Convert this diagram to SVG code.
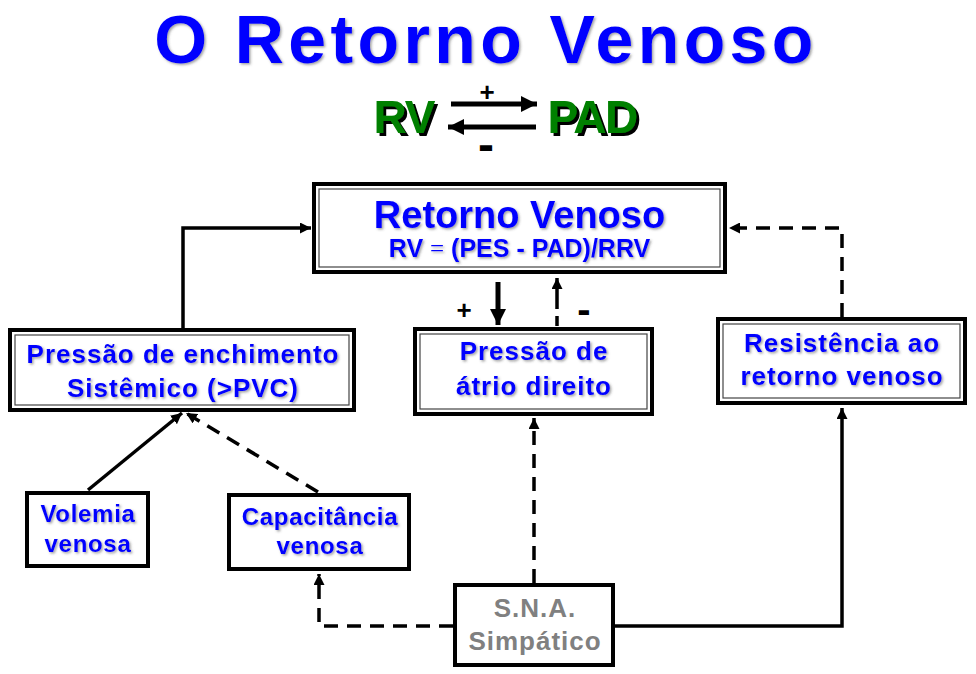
<svg xmlns="http://www.w3.org/2000/svg" width="976" height="674" viewBox="0 0 976 674">
<defs>
<filter id="sh" x="-5%" y="-5%" width="110%" height="120%"><feDropShadow dx="1.5" dy="1.5" stdDeviation="0.8" flood-color="#444" flood-opacity="0.5"/></filter>
<filter id="hard" x="-5%" y="-5%" width="115%" height="120%"><feDropShadow dx="3" dy="3" stdDeviation="0" flood-color="#000" flood-opacity="1"/></filter>
<marker id="ah" viewBox="0 0 10 10" refX="10" refY="5" markerWidth="11" markerHeight="11" markerUnits="userSpaceOnUse" orient="auto"><path d="M0,0 L10,5 L0,10 z" fill="#000"/></marker>
<marker id="ahb" viewBox="0 0 10 10" refX="10" refY="5" markerWidth="16" markerHeight="16" markerUnits="userSpaceOnUse" orient="auto"><path d="M0,0 L10,5 L0,10 z" fill="#000"/></marker>
<style>
.t{font-family:"Liberation Sans",Arial,sans-serif;font-weight:bold;text-anchor:middle}
.blue{fill:#0000ff}
.ob{fill:#fff;stroke:#000;stroke-width:4}
.ib{fill:none;stroke:#444;stroke-width:1.2}
.sb{fill:#fff;stroke:#000;stroke-width:4}
.c{fill:none;stroke:#000;stroke-width:3.5}
.d{stroke-dasharray:14 9}
.lab{font-size:26px;letter-spacing:1px}
.sm{font-size:24px;letter-spacing:0.7px}
</style>
</defs>
<rect width="976" height="674" fill="#fff"/>
<text class="t blue" x="486" y="63" font-size="68" letter-spacing="4.4" filter="url(#sh)">O Retorno Venoso</text>
<g id="eq">
<text class="t" x="404" y="133" font-size="46" fill="#008000" letter-spacing="-1" filter="url(#hard)">RV</text>
<text class="t" x="592" y="133" font-size="46" fill="#008000" letter-spacing="-1.5" filter="url(#hard)">PAD</text>
<line x1="451" y1="104" x2="537" y2="104" stroke="#000" stroke-width="5" marker-end="url(#ahb)"/>
<line x1="536" y1="127" x2="448" y2="127" stroke="#000" stroke-width="5" marker-end="url(#ahb)"/>
<text class="t" x="487" y="101" font-size="26">+</text>
<text class="t" x="486" y="161" font-size="48">-</text>
</g>
<g id="connectors">
<path class="c" d="M183,328 V228 H311" marker-end="url(#ah)"/>
<path class="c d" d="M842,317 V228 H729" marker-end="url(#ah)"/>
<path d="M498,282 V325" stroke="#000" stroke-width="5" fill="none" marker-end="url(#ahb)"/>
<path class="c" d="M557,326 V278" stroke-dasharray="10 7 40" marker-end="url(#ah)"/>
<path class="c" d="M88,490 L182,413" marker-end="url(#ah)"/>
<path class="c d" d="M318,492 L186,413" marker-end="url(#ah)"/>
<path class="c d" d="M453,626 H319 V574" marker-end="url(#ah)"/>
<path class="c d" d="M534,583 V418" marker-end="url(#ah)"/>
<path class="c" d="M615,626 H842 V408" marker-end="url(#ah)"/>
<text class="t" x="464" y="319" font-size="26">+</text>
<text class="t" x="584" y="323" font-size="40">-</text>
</g>
<g id="retorno">
<rect class="ob" x="314" y="184" width="411" height="88"/>
<rect class="ib" x="319" y="189" width="401" height="78"/>
<text class="t blue" x="519.5" y="228" font-size="38" filter="url(#sh)">Retorno Venoso</text>
<text class="t blue" x="519.5" y="257" font-size="25" filter="url(#sh)">RV <tspan font-family="Liberation Serif,serif" font-weight="normal">=</tspan> (PES - PAD)/RRV</text>
</g>
<g id="atrio">
<rect class="ob" x="415" y="329" width="237" height="85"/>
<rect class="ib" x="420" y="334" width="227" height="75"/>
<text class="t blue lab" x="534" y="360" filter="url(#sh)">Pressão de</text>
<text class="t blue lab" x="534" y="395" filter="url(#sh)">átrio direito</text>
</g>
<g id="enchimento">
<rect class="ob" x="10" y="330" width="344" height="80"/>
<rect class="ib" x="15" y="335" width="334" height="70"/>
<text class="t blue lab" x="183" y="363" filter="url(#sh)">Pressão de enchimento</text>
<text class="t blue lab" x="183" y="397" filter="url(#sh)">Sistêmico (&gt;PVC)</text>
</g>
<g id="resistencia">
<rect class="ob" x="718" y="319" width="247" height="84"/>
<rect class="ib" x="723" y="324" width="237" height="74"/>
<text class="t blue lab" x="842" y="352" filter="url(#sh)">Resistência ao</text>
<text class="t blue lab" x="842" y="385" filter="url(#sh)">retorno venoso</text>
</g>
<g id="volemia">
<rect class="sb" x="27" y="493" width="121" height="73"/>
<text class="t blue sm" x="88" y="522" filter="url(#sh)">Volemia</text>
<text class="t blue sm" x="88" y="552" filter="url(#sh)">venosa</text>
</g>
<g id="capacitancia">
<rect class="sb" x="229" y="495" width="180" height="74"/>
<text class="t blue sm" x="320" y="525" filter="url(#sh)">Capacitância</text>
<text class="t blue sm" x="320" y="554" filter="url(#sh)">venosa</text>
</g>
<g id="sna">
<rect class="sb" x="455" y="585" width="158" height="80"/>
<text class="t lab" x="535" y="617" fill="#808080">S.N.A.</text>
<text class="t lab" x="535" y="650" fill="#808080">Simpático</text>
</g>
</svg>
